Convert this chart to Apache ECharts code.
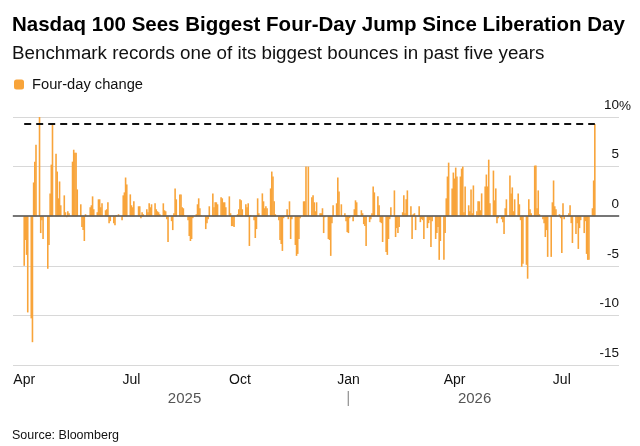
<!DOCTYPE html>
<html lang="en">
<head>
<meta charset="UTF-8">
<title>Nasdaq 100 four-day change</title>
<script src="https://cdn.jsdelivr.net/npm/echarts@6.0.0/dist/echarts.min.js"></script>
<style>
  html, body { margin: 0; padding: 0; background: #fff; }
  #main { width: 640px; height: 446px; }
</style>
</head>
<body>
<div id="main"></div>
<script>
// Four-day % change, one value per weekday (null = market holiday)
const aprJun2025 = [
  -5.0, -2.4, -3.9, -9.7,
  -10.3, -12.7, 3.4, 5.5, 7.2,
  10.0, -1.7, -0.4, -2.3, null,
  -5.3, -2.9, 2.3, 5.2, 9.2,
  6.3, 4.5, 1.8, 3.5, 1.1,
  2.1, 0.4, -0.1, 0.5, 0.3,
  5.5, 6.7, 6.4, 6.4, 2.7,
  1.2, -1.1, -1.4, -2.5, 0.2,
  null, 0.9, 1.1, 2.0, 0.7,
  0.4, 1.7, 1.7, 0.9, 1.3,
  0.6, 0.7, 1.4, -0.7, -0.5
];
const junSep2025 = [
  -0.7, -0.9, 0.1, null, 0.2,
  -0.4, 2.1, 2.4, 3.9, 3.2,
  2.2, 1.1, 0.9, 1.5, null,
  1.0, 1.0, -0.2, 0.4, 0.2,
  0.7, 0.4, 1.3, 0.9, 1.2,
  1.3, 0.7, 0.5, 0.4, 0.2,
  1.3, 0.6, 0.5, -0.3, -2.6,
  -0.5, -1.4, 0.3, 2.8, 1.7,
  2.2, 2.2, 0.9, 0.8, 0.1,
  -0.4, -2.0, -2.5, -2.3, -0.2,
  0.2, 1.2, 1.8, 0.8, 0.1,
  null, -1.3, -0.7, -0.3, 1.0
];
const sepNov2025 = [
  2.3, 0.9, 1.4, 1.4, 1.2,
  1.9, 1.8, 1.4, 1.4, 0.9,
  2.0, 0.3, -1.0, -1.0, -1.1,
  0.2, 0.7, 1.7, 1.6, 0.7,
  1.2, 0.9, 1.3, -3.0, 0.1,
  -0.4, -2.2, -1.3, 1.8, 0.3,
  2.3, 1.5, 0.8, 1.0, 0.8,
  2.8, 4.5, 4.0, 1.5, 0.2,
  -0.4, -2.4, -2.8, -3.5, -0.2,
  0.7, -0.3, 1.5, -2.3, -0.3,
  -2.9, -4.0, -3.8, -2.3, -0.2,
  1.5, 1.5, 5.0, null, 5.0
];
const decFeb2026 = [
  1.9, 2.1, 1.4, 0.5, 1.4,
  0.3, 0.3, 0.8, -1.7, -0.1,
  -2.3, -2.4, -4.0, -0.7, 1.1,
  1.3, 3.9, 2.5, null, 1.2,
  0.3, -0.5, -1.6, -1.7, -0.2,
  -0.5, 0.7, 1.6, 1.4, 0.1,
  0.6, 0.3, -0.8, -1.0, -3.0,
  -0.6, -0.3, 0.3, 3.0, 2.4,
  2.0, 1.1, -0.6, -0.7, -2.6,
  -3.6, -3.9, -2.3, -0.3, 0.9,
  2.6, -2.1, -1.2, -1.7, -1.1,
  0.4, 2.1, 0.3, 1.7, 2.6
];
const febMay2026 = [
  1.0, -2.3, 0.2, 0.3, -1.4,
  1.0, -0.6, -0.3, -0.4, -2.3,
  -1.2, -0.7, -0.4, -3.1, -0.5,
  -2.3, -1.7, -1.1, -4.4, -2.5,
  -4.4, -1.7, 1.8, 4.0, 5.4,
  2.8, 4.4, 3.8, 4.9, 4.0,
  4.0, 4.8, 5.0, 0.4, 3.0,
  1.1, 0.5, 2.7, 0.3, 3.1,
  0.5, 1.5, 1.5, 0.6, 2.3,
  3.0, 4.2, 3.0, 5.7, 1.3,
  4.6, 1.6, 2.8, -0.7, -0.2,
  -0.3, -0.6, -1.8, 0.8, 1.7
];
const mayJul2026 = [
  4.1, 2.3, 2.9, 0.5, 1.7,
  2.3, 1.2, -0.4, -5.1, -4.8,
  -4.9, -6.3, 1.7, 0.7, 0.3,
  5.1, 5.1, 0.8, 2.6, 0.2,
  -0.3, -0.7, -2.1, -1.4, -4.1,
  -4.1, 1.4, 3.6, 1.0, 0.7,
  0.2, -0.2, -3.7, 1.3, -0.3,
  0.1, 0.3, 1.1, -0.7, -2.7,
  -1.8, -0.7, -3.3, -1.2, -0.4,
  -1.7, -0.5, -3.8, -4.4, -4.4,
  0.8, 3.6, 9.3
];
const changes = [].concat(aprJun2025, junSep2025, sepNov2025, decFeb2026, febMay2026, mayJul2026);

const firstDay = '2025-04-01';
const axisStart = '2025-03-23';
const axisEnd = '2026-08-18';
const latestJump = 9.3;

const monthNames = ['Jan', 'Feb', 'Mar', 'Apr', 'May', 'Jun', 'Jul', 'Aug', 'Sep', 'Oct', 'Nov', 'Dec'];
const quarterMonths = [0, 3, 6, 9];
const yearLabels = { '2025-08-15': '2025', '2026-01-01': '|', '2026-04-18': '2026' };

function fmt(d) {
  return d.toISOString().slice(0, 10);
}

// calendar days for the axis, weekdays get the next value
const days = [];
const values = [];
let k = 0;
for (let d = new Date(axisStart + 'T00:00:00Z'); fmt(d) <= axisEnd; d.setUTCDate(d.getUTCDate() + 1)) {
  const s = fmt(d);
  days.push(s);
  const wd = d.getUTCDay();
  if (s >= firstDay && wd !== 0 && wd !== 6 && k < changes.length) {
    values.push(changes[k++]);
  } else {
    values.push(null);
  }
}
const lastDay = days[values.map(v => v !== null).lastIndexOf(true)];
const firstIdx = days.indexOf(firstDay);

const isMonthStart = (i, v) => v.slice(8) === '01';
const isQuarterStart = (i, v) => v.slice(8) === '01' && quarterMonths.indexOf(+v.slice(5, 7) - 1) >= 0;

const font = 'Liberation Sans, Arial, sans-serif';
const chart = echarts.init(document.getElementById('main'));
chart.setOption({
  animation: false,
  textStyle: { fontFamily: font },
  title: [
    {
      text: 'Nasdaq 100 Sees Biggest Four-Day Jump Since Liberation Day',
      left: 7, top: 10,
      textStyle: { fontSize: 20.5, fontWeight: 'bold', color: '#000' }
    },
    {
      text: 'Benchmark records one of its biggest bounces in past five years',
      left: 7, top: 39,
      textStyle: { fontSize: 18.8, fontWeight: 'normal', color: '#111' }
    },
    {
      text: 'Source: Bloomberg',
      left: 7, top: 424,
      textStyle: { fontSize: 12.5, fontWeight: 'normal', color: '#111' }
    }
  ],
  legend: {
    data: ['Four-day change'],
    left: 9, top: 72,
    itemWidth: 10, itemHeight: 10,
    icon: 'roundRect',
    textStyle: { fontSize: 14.7, color: '#111', padding: [0, 0, 0, 3] }
  },
  grid: { left: 13, right: 21, top: 117, bottom: 81 },
  xAxis: [
    {
      type: 'category', data: days, position: 'bottom',
      axisLine: { lineStyle: { color: '#dcdcdc', width: 2 } },
      axisTick: { alignWithLabel: true, interval: isMonthStart, length: 5, lineStyle: { color: '#cfcfcf' } },
      axisLabel: { show: false },
      splitLine: { show: false }
    },
    {
      type: 'category', data: days, position: 'bottom',
      axisLine: { show: false },
      axisTick: { alignWithLabel: true, interval: isQuarterStart, length: 5, lineStyle: { color: '#444' } },
      axisLabel: {
        interval: isQuarterStart, margin: 8, fontSize: 14, color: '#111',
        formatter: v => monthNames[+v.slice(5, 7) - 1]
      }
    },
    {
      type: 'category', data: days, position: 'bottom',
      axisLine: { show: false }, axisTick: { show: false },
      axisLabel: {
        interval: (i, v) => v in yearLabels, margin: 26, fontSize: 15, color: '#555',
        formatter: v => yearLabels[v] === '|' ? '{sep||}' : yearLabels[v],
        rich: { sep: { color: '#999', fontSize: 16 } }
      }
    }
  ],
  yAxis: {
    type: 'value', position: 'right',
    min: -15, max: 10, interval: 5,
    axisLine: { show: false }, axisTick: { show: false },
    splitLine: { lineStyle: { color: '#d8d8d8', width: 1 } },
    axisLabel: {
      inside: true, margin: 0, align: 'right', verticalAlign: 'bottom',
      padding: [0, 0, 5, 0], fontSize: 13.5, color: '#111'
    }
  },
  graphic: [
    { type: 'text', left: 619, top: 99, style: { text: '%', fontSize: 13.5, fill: '#111', fontFamily: font } }
  ],
  series: [
    {
      name: 'Four-day change',
      type: 'bar',
      data: values,
      barWidth: 1.6,
      itemStyle: { color: '#f8a43a' },
      markLine: {
        silent: true, symbol: 'none',
        label: { show: false },
        data: [
          { yAxis: 0, lineStyle: { color: '#555', width: 1.5, type: 'solid' } },
          [
            { coord: [days[firstIdx], latestJump], lineStyle: { color: '#111', width: 2, type: [7, 5] } },
            { coord: [lastDay, latestJump] }
          ]
        ]
      }
    }
  ]
});
</script>
</body>
</html>
